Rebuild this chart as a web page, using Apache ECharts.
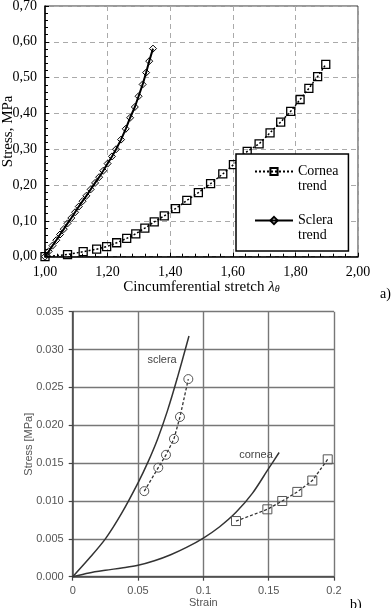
<!DOCTYPE html>
<html>
<head>
<meta charset="utf-8">
<style>
  html, body { margin: 0; background: #fff; }
  #chart { width: 392px; height: 608px; }
</style>
<script src="https://cdn.jsdelivr.net/npm/echarts/dist/echarts.min.js"></script>
</head>
<body>
<div id="chart"></div>
<script>
// ---- panel a) : stress vs circumferential stretch ----
var corneaStretch = [1.000, 1.072, 1.122, 1.165, 1.197, 1.229, 1.261, 1.290, 1.319, 1.349, 1.381, 1.417, 1.453,
  1.490, 1.529, 1.568, 1.602, 1.646, 1.684, 1.719, 1.753, 1.785, 1.815, 1.843, 1.871, 1.897];
var corneaStress = [0.000, 0.006, 0.014, 0.021, 0.028, 0.039, 0.051, 0.064, 0.080, 0.097, 0.114, 0.134, 0.157,
  0.179, 0.204, 0.231, 0.257, 0.294, 0.315, 0.346, 0.376, 0.406, 0.439, 0.470, 0.503, 0.537];
var scleraStretch = [1.000, 1.012, 1.024, 1.036, 1.048, 1.060, 1.072, 1.084, 1.096, 1.108, 1.120, 1.132, 1.146,
  1.160, 1.173, 1.186, 1.200, 1.214, 1.227, 1.243, 1.258, 1.272, 1.287, 1.299, 1.312, 1.323, 1.333, 1.345];
var scleraStress = [0.000, 0.015, 0.031, 0.046, 0.062, 0.077, 0.093, 0.108, 0.124, 0.140, 0.155, 0.170, 0.188,
  0.206, 0.222, 0.240, 0.260, 0.280, 0.300, 0.327, 0.357, 0.388, 0.418, 0.448, 0.481, 0.514, 0.546, 0.581];
var aXLabels = ['1,00', '1,20', '1,40', '1,60', '1,80', '2,00'];
var aYLabels = ['0,00', '0,10', '0,20', '0,30', '0,40', '0,50', '0,60', '0,70'];
var aLegend = ['Cornea trend', 'Sclera trend'];

// ---- panel b) : stress vs strain ----
var scleraModelStrain = [0, 0.0125, 0.025, 0.0375, 0.05, 0.0575, 0.065, 0.0725, 0.080, 0.089];
var scleraModelStress = [0, 0.0024, 0.0050, 0.0084, 0.0124, 0.0151, 0.0182, 0.0219, 0.0262, 0.0318];
var corneaModelStrain = [0, 0.0125, 0.025, 0.0375, 0.05, 0.0625, 0.075, 0.0875, 0.1, 0.1125, 0.125, 0.1375, 0.15, 0.158];
var corneaModelStress = [0, 0.0005, 0.00085, 0.00115, 0.0015, 0.0021, 0.0029, 0.0039, 0.0051, 0.0066, 0.0085, 0.0110, 0.0143, 0.0164];
var scleraExpStrain = [0.0548, 0.0655, 0.0714, 0.0775, 0.0821, 0.0885];
var scleraExpStress = [0.0113, 0.0144, 0.0161, 0.0182, 0.0211, 0.0261];
var corneaExpStrain = [0.125, 0.149, 0.1604, 0.1719, 0.1834, 0.1952];
var corneaExpStress = [0.00735, 0.0089, 0.0100, 0.0112, 0.0127, 0.0155];
var bXLabels = ['0', '0.05', '0.1', '0.15', '0.2'];
var bYLabels = ['0.000', '0.005', '0.010', '0.015', '0.020', '0.025', '0.030', '0.035'];

function zip(xs, ys) {
  return xs.map(function (x, i) { return [x, ys[i]]; });
}

var serif = '"Liberation Serif", "DejaVu Serif", serif';
var sans = '"Liberation Sans", Arial, sans-serif';

var myChart = echarts.init(document.getElementById('chart'), null, { renderer: 'canvas' });

var option = {
  animation: false,
  backgroundColor: '#fff',
  grid: [
    { left: 45, top: 6, width: 313, height: 250.7, show: true, borderColor: '#333', borderWidth: 1,
      outerBoundsMode: 'none', containLabel: false },
    { left: 72.7, top: 311.7, width: 261.3, height: 265, show: false,
      outerBoundsMode: 'none', containLabel: false }
  ],
  legend: {
    data: aLegend,
    orient: 'vertical',
    left: 236,
    top: 154,
    padding: [-5, 10, 8, 18],
    itemGap: 4,
    itemWidth: 38,
    itemHeight: 9,
    backgroundColor: '#fff',
    borderColor: '#000',
    borderWidth: 1.5,
    borderRadius: 0,
    // blank first line so that the first word sits level with the icon
    formatter: function (name) { return ' \n' + name.replace(' ', '\n'); },
    textStyle: { fontFamily: serif, fontSize: 14, color: '#000', lineHeight: 15 }
  },
  xAxis: [
    {
      type: 'value', gridIndex: 0, min: 1, max: 2, interval: 0.2,
      name: 'Cincumferential stretch {i|λ}{s|θ}',
      nameLocation: 'middle', nameGap: 22, nameMoveOverlap: false,
      nameTextStyle: {
        fontFamily: serif, fontSize: 15, color: '#000',
        rich: {
          i: { fontFamily: serif, fontSize: 15, fontStyle: 'italic', color: '#000' },
          s: { fontFamily: serif, fontSize: 10, fontStyle: 'italic', color: '#000', verticalAlign: 'bottom', padding: [6, 0, 0, 0] }
        }
      },
      axisLine: { onZero: false, lineStyle: { color: '#000', width: 1.5 } },
      axisTick: { inside: true, length: 4, lineStyle: { color: '#000', width: 1 } },
      minorTick: { show: true, splitNumber: 5, length: 3, lineStyle: { color: '#000', width: 1 } },
      axisLabel: {
        margin: 9, fontFamily: serif, fontSize: 14, color: '#000',
        formatter: function (v, i) { return aXLabels[i]; }
      },
      splitLine: { show: true, lineStyle: { color: '#aaa', type: [5, 4], width: 1 } }
    },
    {
      type: 'value', gridIndex: 1, min: 0, max: 0.2, interval: 0.05,
      name: 'Strain', nameLocation: 'middle', nameGap: 21, nameMoveOverlap: false,
      nameTextStyle: { fontFamily: sans, fontSize: 11, color: '#555' },
      axisLine: { onZero: false, lineStyle: { color: '#444', width: 1.5 } },
      axisTick: { length: 4, lineStyle: { color: '#444', width: 1.2 } },
      axisLabel: {
        margin: 9, fontFamily: sans, fontSize: 11, color: '#555',
        formatter: function (v, i) { return bXLabels[i]; }
      },
      splitLine: { show: true, lineStyle: { color: '#777', width: 1.4 } }
    }
  ],
  yAxis: [
    {
      type: 'value', gridIndex: 0, min: 0, max: 0.7, interval: 0.1,
      name: 'Stress, MPa', nameLocation: 'middle', nameGap: 29, nameMoveOverlap: false,
      nameTextStyle: { fontFamily: serif, fontSize: 15, color: '#000' },
      axisLine: { show: true, onZero: false, lineStyle: { color: '#000', width: 1.5 } },
      axisTick: { show: true, inside: true, length: 4, lineStyle: { color: '#000', width: 1 } },
      minorTick: { show: true, splitNumber: 5, length: 3, lineStyle: { color: '#000', width: 1 } },
      axisLabel: {
        margin: 8, fontFamily: serif, fontSize: 14, color: '#000',
        formatter: function (v, i) { return aYLabels[i]; }
      },
      splitLine: { show: true, lineStyle: { color: '#aaa', type: [5, 4], width: 1 } }
    },
    {
      type: 'value', gridIndex: 1, min: 0, max: 0.035, interval: 0.005,
      name: 'Stress [MPa]', nameLocation: 'middle', nameGap: 38, nameMoveOverlap: false,
      nameTextStyle: { fontFamily: sans, fontSize: 11, color: '#555' },
      axisLine: { show: true, onZero: false, lineStyle: { color: '#444', width: 1.5 } },
      axisTick: { show: true, length: 4, lineStyle: { color: '#444', width: 1.2 } },
      axisLabel: {
        margin: 9, fontFamily: sans, fontSize: 11, color: '#555',
        formatter: function (v, i) { return bYLabels[i]; }
      },
      splitLine: { show: true, lineStyle: { color: '#777', width: 1.4 } }
    }
  ],
  series: [
    {
      name: 'Cornea trend', type: 'line', xAxisIndex: 0, yAxisIndex: 0,
      data: zip(corneaStretch, corneaStress),
      symbol: 'rect', symbolSize: 8,
      lineStyle: { color: '#000', width: 1.5, type: [2, 2] },
      itemStyle: { color: 'rgba(255,255,255,0)', borderColor: '#000', borderWidth: 1.3 },
      z: 3
    },
    {
      name: 'Sclera trend', type: 'line', xAxisIndex: 0, yAxisIndex: 0,
      data: zip(scleraStretch, scleraStress),
      symbol: 'diamond', symbolSize: 7,
      lineStyle: { color: '#000', width: 2 },
      itemStyle: { color: 'rgba(255,255,255,0)', borderColor: '#000', borderWidth: 1 },
      z: 3
    },
    {
      name: 'sclera model', type: 'line', xAxisIndex: 1, yAxisIndex: 1,
      data: zip(scleraModelStrain, scleraModelStress),
      smooth: 0.3, symbol: 'none',
      lineStyle: { color: '#333', width: 1.5 },
      markPoint: {
        symbol: 'circle', symbolSize: 0, silent: true,
        label: { show: true, position: 'inside', formatter: 'sclera', fontFamily: sans, fontSize: 11, color: '#444' },
        data: [{ coord: [0.0684, 0.0286] }]
      }
    },
    {
      name: 'cornea model', type: 'line', xAxisIndex: 1, yAxisIndex: 1,
      data: zip(corneaModelStrain, corneaModelStress),
      smooth: 0.3, symbol: 'none',
      lineStyle: { color: '#333', width: 1.5 },
      markPoint: {
        symbol: 'circle', symbolSize: 0, silent: true,
        label: { show: true, position: 'inside', formatter: 'cornea', fontFamily: sans, fontSize: 11, color: '#444' },
        data: [{ coord: [0.1403, 0.0161] }]
      }
    },
    {
      name: 'sclera exp', type: 'line', xAxisIndex: 1, yAxisIndex: 1,
      data: zip(scleraExpStrain, scleraExpStress),
      symbol: 'circle', symbolSize: 9,
      lineStyle: { color: '#333', width: 1.3, type: [3, 2] },
      itemStyle: { color: 'rgba(255,255,255,0)', borderColor: '#555', borderWidth: 1 }
    },
    {
      name: 'cornea exp', type: 'line', xAxisIndex: 1, yAxisIndex: 1,
      data: zip(corneaExpStrain, corneaExpStress),
      symbol: 'rect', symbolSize: 9,
      lineStyle: { color: '#333', width: 1.3, type: [3, 2] },
      itemStyle: { color: 'rgba(255,255,255,0)', borderColor: '#555', borderWidth: 1 }
    }
  ],
  graphic: [
    { type: 'text', left: 380, top: 287, style: { text: 'a)', font: '14px ' + serif, fill: '#000' } },
    { type: 'text', left: 350, top: 598, style: { text: 'b)', font: '14px ' + serif, fill: '#000' } }
  ]
};

myChart.setOption(option);
</script>
</body>
</html>
